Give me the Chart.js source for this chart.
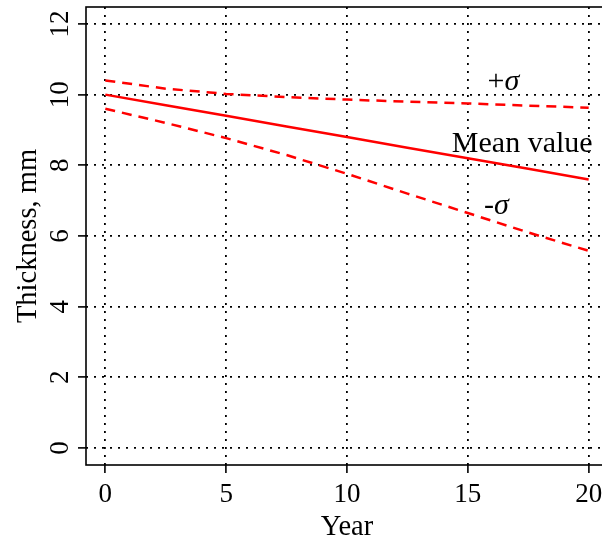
<!DOCTYPE html>
<html>
<head>
<meta charset="utf-8">
<script src="https://cdn.jsdelivr.net/npm/chart.js@4"></script>
<style>
  html, body { margin: 0; padding: 0; background: #fff; overflow: hidden; }
  #wrap { width: 620px; height: 542px; }
</style>
</head>
<body>
<div id="wrap"><canvas id="thicknessChart"></canvas></div>
<script>
// values
const years = [0, 2.5, 5, 7.5, 10, 12.5, 15, 17.5, 20];
const meanValue = [10.0, 9.7, 9.4, 9.1, 8.8, 8.5, 8.2, 7.9, 7.6];
const plusSigma = [10.4, 10.17, 10.02, 9.93, 9.86, 9.8, 9.75, 9.69, 9.63];
const minusSigma = [9.6, 9.2, 8.77, 8.29, 7.76, 7.2, 6.65, 6.1, 5.58];

const xTicks = [0, 5, 10, 15, 20];
const yTicks = [0, 2, 4, 6, 8, 10, 12];

const serif = '"Liberation Serif", "Times New Roman", serif';

const toPoints = vals => vals.map((v, i) => ({ x: years[i], y: v }));

// text labels next to the curves (data units, baseline)
const curveLabels = [
  { main: '+', sym: 'σ', x: 16.47, y: 10.14 },
  { main: 'Mean value', sym: '', x: 17.25, y: 8.39 },
  { main: '-', sym: 'σ', x: 16.18, y: 6.62 }
];

const boxAndText = {
  id: 'boxAndText',
  afterDatasetsDraw(chart) {
    const { ctx, chartArea: a, scales } = chart;
    ctx.save();
    ctx.strokeStyle = '#000';
    ctx.lineWidth = 1.6;
    ctx.strokeRect(a.left, a.top, a.right - a.left, a.bottom - a.top);

    ctx.fillStyle = '#000';
    ctx.textBaseline = 'alphabetic';
    ctx.textAlign = 'left';
    curveLabels.forEach(l => {
      const px = scales.x.getPixelForValue(l.x);
      const py = scales.y.getPixelForValue(l.y);
      ctx.font = '30px ' + serif;
      const w1 = ctx.measureText(l.main).width;
      ctx.font = 'italic 30px ' + serif;
      const w2 = l.sym ? ctx.measureText(l.sym).width : 0;
      let x0 = px - (w1 + w2) / 2;
      ctx.font = '30px ' + serif;
      ctx.fillText(l.main, x0, py);
      if (l.sym) {
        ctx.font = 'italic 30px ' + serif;
        ctx.fillText(l.sym, x0 + w1, py);
      }
    });
    ctx.restore();
  }
};

const lineStyle = (dash) => ({
  borderColor: '#ff0000',
  borderWidth: 2.5,
  borderDash: dash,
  pointRadius: 0,
  fill: false,
  tension: 0
});

const data = {
  datasets: [
    { label: 'Mean value', data: toPoints(meanValue), ...lineStyle([]) },
    { label: '+sigma', data: toPoints(plusSigma), ...lineStyle([10, 7]) },
    { label: '-sigma', data: toPoints(minusSigma), ...lineStyle([10, 7]) }
  ]
};

const gridOpts = {
  color: '#000',
  lineWidth: 1.8,
  tickLength: 8,
  tickColor: '#000',
  tickWidth: 1.6,
  tickBorderDash: []
};

// in v4 border.dash is what dashes the grid lines
const borderOpts = { display: false, dash: [2, 6] };

const options = {
  responsive: true,
  maintainAspectRatio: false,
  animation: false,
  layout: { padding: { top: 7, right: 12, left: 0, bottom: 0 } },
  plugins: {
    legend: { display: false },
    tooltip: { enabled: false }
  },
  scales: {
    x: {
      type: 'linear',
      min: -0.8,
      max: 20.8,
      afterBuildTicks: s => { s.ticks = xTicks.map(v => ({ value: v })); },
      afterFit: s => { s.height = 77; },
      grid: gridOpts,
      border: borderOpts,
      ticks: {
        color: '#000',
        padding: 6,
        maxRotation: 0,
        font: { family: serif, size: 27 }
      },
      title: {
        display: true,
        text: 'Year',
        color: '#000',
        font: { family: serif, size: 28.5, lineHeight: 1 },
        padding: { top: 0, bottom: 0 }
      }
    },
    y: {
      type: 'linear',
      min: -0.48,
      max: 12.48,
      afterBuildTicks: s => { s.ticks = yTicks.map(v => ({ value: v })); },
      afterFit: s => { s.width = 86; s.paddingTop = 0; s.paddingBottom = 0; },
      grid: gridOpts,
      border: borderOpts,
      ticks: {
        color: '#000',
        padding: 4,
        minRotation: 90,
        maxRotation: 90,
        crossAlign: 'center',
        font: { family: serif, size: 27, lineHeight: 0.4 }
      },
      title: {
        display: true,
        text: 'Thickness, mm',
        color: '#000',
        font: { family: serif, size: 28.5, lineHeight: 1 },
        padding: { top: 14, bottom: 0 }
      }
    }
  }
};

const ctx = document.getElementById('thicknessChart').getContext('2d');
const thicknessChart = new Chart(ctx, {
  type: 'line',
  data: data,
  options: options,
  plugins: [boxAndText]
});
</script>
</body>
</html>
